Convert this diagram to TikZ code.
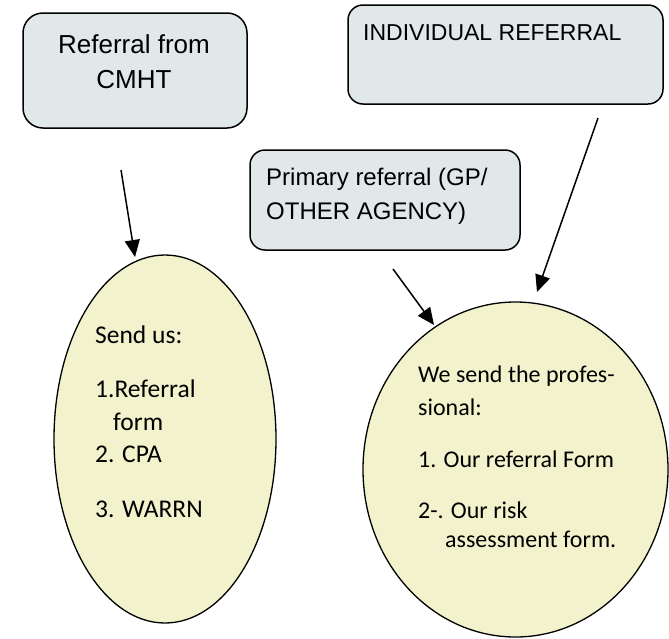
\documentclass[tikz,border=0pt]{standalone}
\usepackage{fontspec}
\setmainfont{Liberation Sans}
\newfontfamily\carl{Carlito}
\usetikzlibrary{shapes.geometric,arrows.meta}
\definecolor{boxfill}{RGB}{224,232,234}
\definecolor{ellfill}{RGB}{242,242,204}
\tikzset{
  refbox/.style={draw=black, line width=1.5pt, fill=boxfill, rounded corners=#1, inner sep=0pt},
  refbox/.default=15pt,
  oval/.style={draw=black, line width=1.3pt, fill=ellfill, ellipse, inner sep=0pt},
  boxtxt/.style={inner sep=0pt, font=\fontsize{#1}{#1}\selectfont},
  boxtxt/.default=23,
  ovaltxt/.style={inner sep=0pt, anchor=base west, font=\carl\fontsize{#1}{#1}\selectfont},
  conn/.style={line width=1.5pt, -{Triangle[length=17pt,width=15pt]}}
}
\begin{document}
\begin{tikzpicture}[x=1pt,y=-1pt]
\useasboundingbox (0,0) rectangle (669,638);
% boxes
\node[refbox=20pt, minimum width=224pt, minimum height=115pt] (cmht) at (135,70.5) {};
\node[refbox, minimum width=315pt, minimum height=99pt] (indiv) at (505.5,54.5) {};
\node[refbox, minimum width=270pt, minimum height=100pt] (prim) at (385,200) {};
% box texts
\node[boxtxt=26, anchor=base] (t1a) at (134,53) {Referral from};
\node[boxtxt=26, anchor=base] (t1b) at (134,88) {CMHT};
\node[boxtxt=23, anchor=base west] (t2) at (363,40) {INDIVIDUAL REFERRAL};
\node[boxtxt=24, anchor=base west] (t3a) at (266,185) {Primary referral (GP/};
\node[boxtxt=24, anchor=base west] (t3b) at (266,219) {OTHER AGENCY)};
% ellipses
\node[oval, minimum width=222pt, minimum height=368pt] (e1) at (165,439) {};
\node[oval, minimum width=305pt, minimum height=335pt] (e2) at (515.5,469.5) {};
% ellipse texts
\node[ovaltxt=25.5] (l1) at (95,343) {Send us:};
\node[ovaltxt=25.5] (l2) at (95,397) {1.Referral};
\node[ovaltxt=25.5] (l3) at (113,430) {form};
\node[ovaltxt=25.5] (l4) at (95,462) {2. CPA};
\node[ovaltxt=25.5] (l5) at (95,517) {3. WARRN};
\node[ovaltxt=24] (r1) at (418,382) {We send the profes-};
\node[ovaltxt=24] (r2) at (418,415) {sional:};
\node[ovaltxt=24] (r3) at (418,467) {1. Our referral Form};
\node[ovaltxt=24] (r4) at (418,518) {2-. Our risk};
\node[ovaltxt=24] (r5) at (445,547) {assessment form.};
% connectors
\coordinate (a1s) at (121,170);
\coordinate (a1e) at (135,257);
\coordinate (a2s) at (598,118);
\coordinate (a2e) at (537,292);
\coordinate (a3s) at (393,269);
\coordinate (a3e) at (434,325);
\draw[conn] (a1s) -- (a1e);
\draw[conn] (a2s) -- (a2e);
\draw[conn] (a3s) -- (a3e);
\end{tikzpicture}
\end{document}
